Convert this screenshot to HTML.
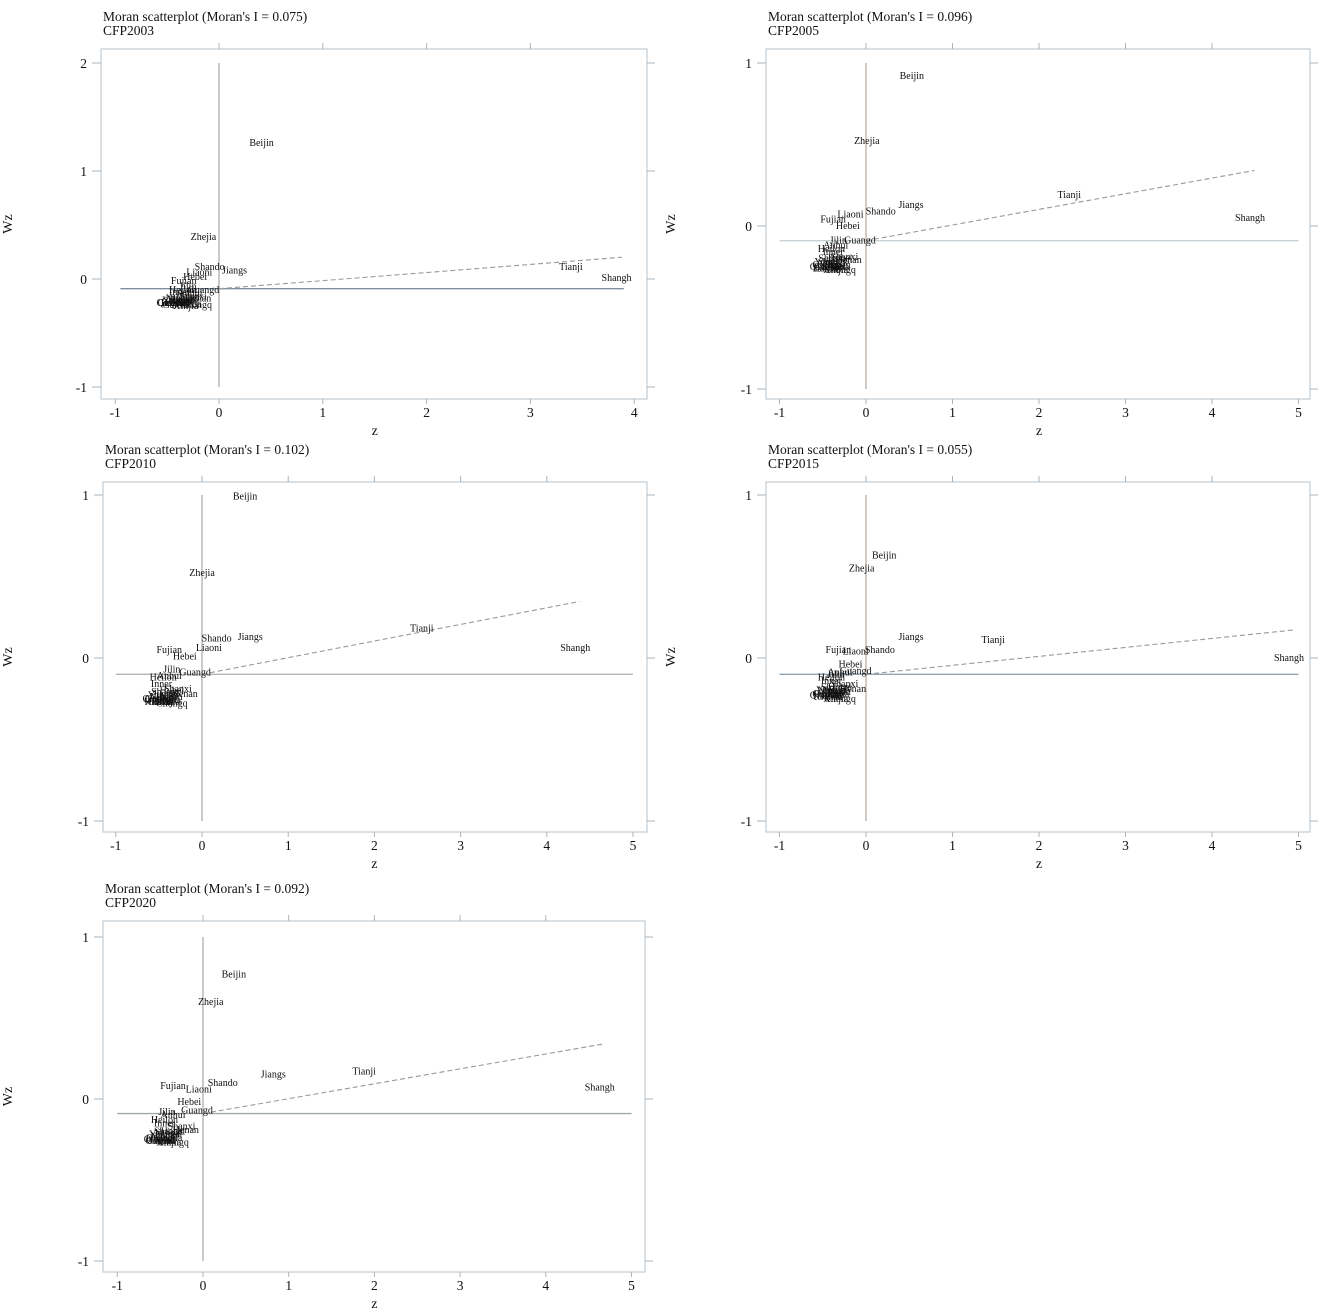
<!DOCTYPE html>
<html><head><meta charset="utf-8"><style>
body{margin:0;background:#fff;}
svg{display:block;font-family:"Liberation Serif",serif;}
</style></head><body>
<svg id="c" width="1325" height="1316" viewBox="0 0 1325 1316" xmlns="http://www.w3.org/2000/svg"></svg>
<script>
const titles = ["Moran scatterplot (Moran's I = 0.075)","Moran scatterplot (Moran's I = 0.096)","Moran scatterplot (Moran's I = 0.102)","Moran scatterplot (Moran's I = 0.055)","Moran scatterplot (Moran's I = 0.092)"];
const subtitles = ["CFP2003","CFP2005","CFP2010","CFP2015","CFP2020"];
const moranI = [0.075,0.096,0.102,0.055,0.092];
const meanWz = [-0.09,-0.09,-0.10,-0.10,-0.09];
const xTicks = [[-1,0,1,2,3,4],[-1,0,1,2,3,4,5],[-1,0,1,2,3,4,5],[-1,0,1,2,3,4,5],[-1,0,1,2,3,4,5]];
const yTicks = [[-1,0,1,2],[-1,0,1],[-1,0,1],[-1,0,1],[-1,0,1]];
const names = ["Beijin","Zhejia","Shando","Jiangs","Tianji","Shangh","Liaoni","Fujian","Hebei","Guangd","Jilin","Heilon","Anhui","Inner","Shanxi","Henan","Hubei","Hunan","Jiangx","Guangx","Hainan","Chongq","Sichua","Guizho","Yunnan","Shaanx","Gansu","Qingha","Ningxi","Xinjia"];
const z2003 = [0.41,-0.15,-0.09,0.15,3.39,3.83,-0.19,-0.34,-0.23,-0.15,-0.3,-0.35,-0.28,-0.38,-0.25,-0.2,-0.3,-0.33,-0.36,-0.4,-0.42,-0.22,-0.3,-0.45,-0.4,-0.35,-0.42,-0.46,-0.38,-0.32];
const wz2003 = [1.26,0.39,0.11,0.08,0.11,0.01,0.06,-0.02,0.02,-0.10,-0.07,-0.10,-0.13,-0.12,-0.16,-0.18,-0.17,-0.2,-0.19,-0.21,-0.22,-0.24,-0.23,-0.22,-0.2,-0.19,-0.24,-0.22,-0.18,-0.25];
const z2005 = [0.53,0.01,0.17,0.52,2.35,4.44,-0.18,-0.38,-0.21,-0.07,-0.32,-0.4,-0.35,-0.38,-0.25,-0.2,-0.3,-0.33,-0.36,-0.42,-0.45,-0.3,-0.35,-0.45,-0.42,-0.38,-0.44,-0.48,-0.4,-0.35];
const wz2005 = [0.92,0.52,0.09,0.13,0.19,0.05,0.07,0.04,0.0,-0.09,-0.09,-0.14,-0.12,-0.16,-0.19,-0.21,-0.2,-0.24,-0.22,-0.25,-0.26,-0.27,-0.25,-0.24,-0.22,-0.2,-0.26,-0.25,-0.23,-0.27];
const z2010 = [0.5,0.0,0.17,0.56,2.55,4.33,0.08,-0.38,-0.2,-0.08,-0.35,-0.45,-0.38,-0.47,-0.28,-0.2,-0.35,-0.38,-0.42,-0.48,-0.5,-0.35,-0.4,-0.5,-0.45,-0.42,-0.48,-0.52,-0.45,-0.4];
const wz2010 = [0.99,0.52,0.12,0.13,0.18,0.06,0.06,0.05,0.01,-0.09,-0.07,-0.12,-0.11,-0.16,-0.19,-0.22,-0.2,-0.24,-0.22,-0.25,-0.27,-0.28,-0.26,-0.26,-0.23,-0.21,-0.27,-0.25,-0.24,-0.27];
const z2015 = [0.21,-0.05,0.16,0.52,1.47,4.89,-0.12,-0.32,-0.18,-0.12,-0.35,-0.4,-0.3,-0.4,-0.25,-0.15,-0.3,-0.33,-0.36,-0.42,-0.45,-0.3,-0.35,-0.45,-0.4,-0.35,-0.42,-0.48,-0.4,-0.35];
const wz2015 = [0.63,0.55,0.05,0.13,0.11,0.0,0.04,0.05,-0.04,-0.08,-0.1,-0.12,-0.09,-0.14,-0.16,-0.19,-0.18,-0.21,-0.2,-0.22,-0.23,-0.25,-0.22,-0.22,-0.2,-0.18,-0.24,-0.23,-0.2,-0.25];
const z2020 = [0.36,0.09,0.23,0.82,1.88,4.63,-0.05,-0.35,-0.16,-0.07,-0.42,-0.45,-0.35,-0.45,-0.25,-0.2,-0.35,-0.4,-0.42,-0.48,-0.5,-0.35,-0.4,-0.5,-0.45,-0.4,-0.47,-0.52,-0.45,-0.4];
const wz2020 = [0.77,0.60,0.10,0.15,0.17,0.07,0.06,0.08,-0.02,-0.07,-0.08,-0.13,-0.1,-0.15,-0.17,-0.19,-0.2,-0.22,-0.21,-0.24,-0.25,-0.27,-0.24,-0.26,-0.22,-0.2,-0.26,-0.25,-0.23,-0.27];
const zData = [z2003,z2005,z2010,z2015,z2020];
const wzData = [wz2003,wz2005,wz2010,wz2015,wz2020];

// layout (not data)
const panels = [
 {L:101,R:647,T:49,B:399,x0:219,xs:103.8,y0:279,ys:108,zMin:-0.95,zMax:3.9,wzX:12,hColor:"#7d8fa0",vColor:"#a8a8a8"},
 {L:766,R:1310,T:49,B:399,x0:866,xs:86.5,y0:226,ys:163,zMin:-1,zMax:5,wzX:675,hColor:"#c9d3d6",vColor:"#b8a89c"},
 {L:103,R:647,T:482,B:832,x0:202,xs:86.2,y0:658,ys:163,zMin:-1,zMax:5,wzX:12,hColor:"#b5b5b5",vColor:"#a8a8a8"},
 {L:766,R:1310,T:482,B:832,x0:866,xs:86.5,y0:658,ys:163,zMin:-1,zMax:5,wzX:675,hColor:"#8fa3b2",vColor:"#b8a89c"},
 {L:103,R:645,T:921,B:1272,x0:203,xs:85.7,y0:1099,ys:162,zMin:-1,zMax:5,wzX:12,hColor:"#a0a8ac",vColor:"#a8a8a8"}
];
const NS="http://www.w3.org/2000/svg";
const svg=document.getElementById('c');
function mk(tag,attrs,parent,text){const e=document.createElementNS(NS,tag);for(const k in attrs)e.setAttribute(k,attrs[k]);if(text!==undefined)e.textContent=text;parent.appendChild(e);return e;}

panels.forEach((p,i)=>{
  const sx=v=>p.x0+v*p.xs, sy=v=>p.y0-v*p.ys;
  const g=mk('g',{},svg);
  
  
  const t1=mk('text',{x:p.L+2,y:p.T-28,'font-size':13.5,fill:'#111'},g,titles[i]);
  
  
  const t2=mk('text',{x:p.L+2,y:p.T-14,'font-size':13.5,fill:'#111'},g,subtitles[i]);
  
  
  const fr=mk('rect',{x:p.L,y:p.T,width:p.R-p.L,height:p.B-p.T,fill:'none',stroke:'#c3ccd3','stroke-width':1.2},g);
  
  
  xTicks[i].forEach(v=>{
    const x=sx(v);
    const tk=mk('line',{x1:x,x2:x,y1:p.B,y2:p.B+5,stroke:'#aab4bb'},g);
    
    
    if(v>=0&&v<xTicks[i][xTicks[i].length-1]){const tt=mk('line',{x1:x,x2:x,y1:p.T-6,y2:p.T,stroke:'#aab4bb'},g);
      
      }
    const lb=mk('text',{x:x,y:p.B+18,'font-size':13.5,'text-anchor':'middle',fill:'#111'},g,String(v));
    
    
  });
  yTicks[i].forEach(v=>{
    const y=sy(v);
    const tk=mk('line',{x1:p.L-9,x2:p.L,y1:y,y2:y,stroke:'#aab4bb'},g);
    
    
    const tr=mk('line',{x1:p.R,x2:p.R+8,y1:y,y2:y,stroke:'#aab4bb'},g);
    
    
    const lb=mk('text',{x:p.L-14,y:y+5,'font-size':13.5,'text-anchor':'end',fill:'#111'},g,String(v));
    
    
  });
  const xt=mk('text',{x:(sx(xTicks[i][0])+sx(xTicks[i][xTicks[i].length-1]))/2,y:p.B+36,'font-size':14,'text-anchor':'middle',fill:'#111'},g,'z');
  
  
  const yc=(p.T+p.B)/2;
  const yt=mk('text',{x:p.wzX,y:yc,'font-size':14,'text-anchor':'middle',fill:'#111',transform:'rotate(-90 '+p.wzX+' '+yc+')'},g,'Wz');
  
  
  const yv=yTicks[i];
  const vl=mk('line',{x1:sx(0),x2:sx(0),y1:sy(yv[yv.length-1]),y2:sy(yv[0]),stroke:p.vColor,'stroke-width':1.2},g);
  
  
  const hl=mk('line',{x1:sx(p.zMin),x2:sx(p.zMax),y1:sy(meanWz[i]),y2:sy(meanWz[i]),stroke:p.hColor,'stroke-width':1.4},g);
  
  
  const zs=zData[i], ws=wzData[i];
  const zmax=Math.max(...zs)+0.05;
  const rl=mk('line',{x1:sx(0),x2:sx(zmax),y1:sy(meanWz[i]),y2:sy(meanWz[i]+moranI[i]*zmax),stroke:'#999','stroke-width':1.1,'stroke-dasharray':'5,3'},g);
  
  
  names.forEach((n,k)=>{
    const tx=mk('text',{x:sx(zs[k]),y:sy(ws[k])+3,'font-size':10,'text-anchor':'middle',fill:'#111'},g,n);
    
    
  });
});
</script>
</body></html>
